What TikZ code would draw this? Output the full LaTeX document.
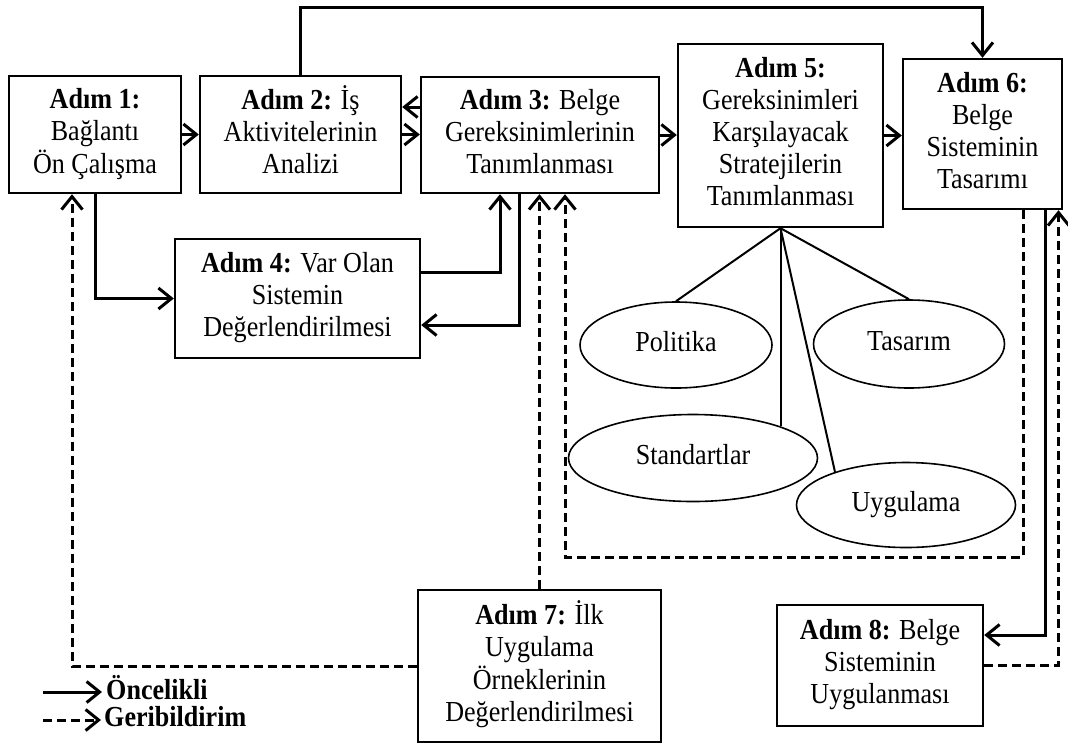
\documentclass[tikz,border=0pt]{standalone}
\usepackage{fontspec}
\usepackage{graphicx}
\setmainfont{Liberation Serif}
\usetikzlibrary{arrows.meta,shapes.geometric}
\newcommand{\metin}[1]{\scalebox{0.9}[1]{\begin{tabular}{@{}c@{}}#1\end{tabular}}}

\begin{document}
\begin{tikzpicture}[x=1pt,y=-1pt,
    font=\fontsize{29}{32}\selectfont,
    >={Straight Barb[length=13pt,width=21pt]},
    adim/.style={draw,line width=2.4pt,inner sep=2pt},
    strat/.style={draw,ellipse,line width=1.6pt,inner sep=0pt},
    pri/.style={->,line width=3pt},
    fbk/.style={->,line width=3pt,dash pattern=on 9pt off 5pt},
    tie/.style={line width=2pt}]
\useasboundingbox (0,0) rectangle (1068,745);

% steps
\node[adim,minimum width=172pt,minimum height=117pt] (adim1) at (95,134.5)
    {\metin{\textbf{Adım 1:}\\Bağlantı\\Ön Çalışma}};
\node[adim,minimum width=201pt,minimum height=117pt] (adim2) at (300.5,134.5)
    {\metin{\textbf{Adım 2:} İş\\Aktivitelerinin\\Analizi}};
\node[adim,minimum width=238pt,minimum height=116pt] (adim3) at (540,135)
    {\metin{\textbf{Adım 3:} Belge\\Gereksinimlerinin\\Tanımlanması}};
\node[adim,minimum width=245pt,minimum height=119pt] (adim4) at (297.5,298.5)
    {\metin{\textbf{Adım 4:} Var Olan\\Sistemin\\Değerlendirilmesi}};
\node[adim,minimum width=205pt,minimum height=183pt] (adim5) at (780.5,135.5)
    {\metin{\textbf{Adım 5:}\\Gereksinimleri\\Karşılayacak\\Stratejilerin\\Tanımlanması}};
\node[adim,minimum width=159pt,minimum height=150pt] (adim6) at (982.5,134)
    {\metin{\textbf{Adım 6:}\\Belge\\Sisteminin\\Tasarımı}};
\node[adim,minimum width=243pt,minimum height=152pt] (adim7) at (539.5,666)
    {\metin{\textbf{Adım 7:} İlk\\Uygulama\\Örneklerinin\\Değerlendirilmesi}};
\node[adim,minimum width=206pt,minimum height=121pt] (adim8) at (880,665.5)
    {\metin{\textbf{Adım 8:} Belge\\Sisteminin\\Uygulanması}};

% strategies
\node[strat,minimum width=192pt,minimum height=86pt] (politika) at (676,345) {\metin{Politika}};
\node[strat,minimum width=191pt,minimum height=88pt] (tasarim) at (909,344) {\metin{Tasarım}};
\node[strat,minimum width=249pt,minimum height=87pt] (standart) at (693,458) {\metin{Standartlar}};
\node[strat,minimum width=219pt,minimum height=85pt] (uygulama) at (906,505) {\metin{Uygulama}};

\draw[tie] (adim5.south) -- (politika.north);
\draw[tie] (adim5.south) -- (tasarim.north);
\draw[tie] (adim5.south) -- (adim5.south |- standart.20);
\draw[tie] (adim5.south) -- (uygulama.155);

% forward flow
\draw[pri] (adim1.east) -- (adim1.east -| adim2.west);
\draw[pri] ([yshift=28pt]adim3.west) -- ([yshift=28pt]adim3.west -| adim2.east);
\draw[pri] (adim2.east) -- (adim2.east -| adim3.west);
\draw[pri] (adim3.east) -- (adim3.east -| adim5.west);
\draw[pri] (adim5.east) -- (adim5.east -| adim6.west);
\coordinate (ust) at (0,7);
\draw[pri] (adim2.north) |- (adim6.north |- ust) -- (adim6.north);
\draw[pri] (adim1.south) |- (adim4.west);
\draw[pri] ([yshift=26.5pt]adim4.east) -| ([xshift=-40pt]adim3.south);
\draw[pri] ([xshift=-21pt]adim3.south) |- ([yshift=-26.5pt]adim4.east);
\draw[pri] ([xshift=62.5pt]adim6.south) |- ([yshift=30.5pt]adim8.east);

% feedback
\coordinate (donus) at (565,557);
\draw[fbk] (adim7.north) -- (adim7.north |- adim3.south);
\draw[fbk] ([xshift=40.5pt]adim6.south) |- (donus) -| ([xshift=25pt]adim3.south);
\draw[fbk] (adim8.east) -| ([xshift=76pt]adim6.south);
\draw[fbk] (adim7.west) -| ([xshift=-23pt]adim1.south);

% legend
\node[anchor=west,inner sep=0pt] (oncelikli) at (106,692) {\metin{\textbf{Öncelikli}}};
\node[anchor=west,inner sep=0pt] (geri) at (104,720) {\metin{\textbf{Geribildirim}}};
\draw[pri] ([xshift=-63pt]oncelikli.west) -- ([xshift=-4pt]oncelikli.west);
\draw[fbk] ([xshift=-61pt]geri.west) -- ([xshift=-3pt]geri.west);
\end{tikzpicture}
\end{document}
